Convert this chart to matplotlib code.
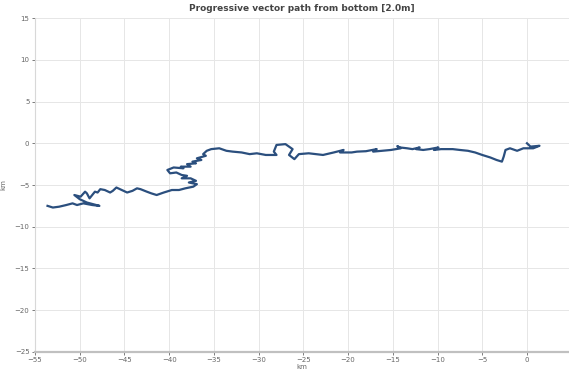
import matplotlib
matplotlib.use("Agg")
from matplotlib import pyplot as plt
import numpy as np

# progressive vector path, km east / km north
# eastern part: from the origin west to about -35 km
east_a = [0.0, 0.4, 1.4, 0.7, -0.4, -1.1, -1.9, -2.4, -2.6, -2.8, -3.4, -4.1, -5.0,
          -5.8, -6.6, -7.5, -8.3, -9.0, -9.6, -10.4, -9.9, -10.9, -11.6, -12.4,
          -12.0, -12.8, -13.4, -14.2, -14.5, -14.1, -15.2, -16.2, -17.2, -16.8,
          -18.0, -19.0, -19.6, -20.9, -20.5, -21.6, -22.8, -23.6, -24.4, -25.5,
          -26.0, -26.6, -26.2, -27.0, -28.0, -28.3, -28.0, -29.2, -30.2, -31.0,
          -31.9, -32.9, -33.6, -34.4, -35.3]
north_a = [0.0, -0.4, -0.3, -0.6, -0.6, -0.9, -0.6, -0.8, -1.6, -2.2, -2.0, -1.7, -1.4,
           -1.1, -0.9, -0.8, -0.7, -0.7, -0.7, -0.8, -0.5, -0.7, -0.8, -0.7,
           -0.5, -0.7, -0.6, -0.5, -0.35, -0.6, -0.8, -0.9, -1.0, -0.7,
           -0.95, -1.0, -1.1, -1.1, -0.8, -1.1, -1.4, -1.3, -1.2, -1.3,
           -1.9, -1.4, -0.7, -0.1, -0.2, -1.0, -1.4, -1.4, -1.2, -1.3,
           -1.1, -1.0, -0.9, -0.6, -0.7]
# western part: the zigzag drop near -37 km and the tail to -53 km
east_b = [-35.8, -36.2, -35.9, -36.9, -36.4, -37.4, -37.0, -38.0, -37.6, -38.7,
          -38.4, -39.5, -40.2, -39.9, -39.2, -38.6, -38.0, -38.6, -37.6, -37.0,
          -37.8, -36.9, -37.3, -38.2, -38.9, -39.7, -40.6, -41.4, -42.0, -42.5,
          -43.2, -43.6, -44.1, -44.7, -45.3, -45.9, -46.3, -46.6, -47.2, -47.7,
          -48.0, -48.3, -48.9, -49.2, -49.4, -49.9, -50.6, -50.0, -49.2, -47.8,
          -48.6, -49.6, -50.3, -50.8, -51.5, -52.3, -53.0, -53.6]
north_b = [-0.9, -1.3, -1.5, -1.8, -2.0, -2.2, -2.4, -2.5, -2.8, -2.8,
           -3.0, -2.9, -3.2, -3.6, -3.5, -3.8, -3.9, -4.2, -4.2, -4.5,
           -4.7, -4.9, -5.2, -5.4, -5.6, -5.6, -5.9, -6.2, -6.0, -5.8,
           -5.5, -5.4, -5.7, -5.9, -5.6, -5.3, -5.7, -5.9, -5.6, -5.5,
           -5.9, -5.8, -6.6, -6.0, -5.8, -6.4, -6.2, -6.7, -7.1, -7.5,
           -7.4, -7.2, -7.4, -7.2, -7.4, -7.6, -7.7, -7.5]

east_km = east_a + east_b
north_km = north_a + north_b
assert len(east_km) == len(north_km)

x_ticks = [-55, -50, -45, -40, -35, -30, -25, -20, -15, -10, -5, 0]
y_ticks = [15, 10, 5, 0, -5, -10, -15, -20, -25]

fig = plt.figure(figsize=(5.69, 3.70), dpi=100)
ax = fig.add_axes([0.0615, 0.049, 0.9385, 0.902])

ax.plot(east_km, north_km, color='#2b4f7e', lw=1.6, solid_joinstyle='round')

ax.set_xlim(-55, 4.7)
ax.set_ylim(-25, 15)
ax.set_xticks(x_ticks)
ax.set_yticks(y_ticks)
ax.grid(True, color='#e6e6e6', lw=0.7)
ax.set_axisbelow(True)

for s in ['top', 'right']:
    ax.spines[s].set_visible(False)
ax.spines['left'].set_color('#d8d8d8')
ax.spines['left'].set_linewidth(0.8)
ax.spines['bottom'].set_color('#c0c0c0')
ax.spines['bottom'].set_linewidth(1.6)
ax.tick_params(labelsize=5, colors='#666666', length=2, width=0.6, pad=2)

ax.set_title('Progressive vector path from bottom [2.0m]', fontsize=6.5,
             fontweight='bold', color='#444444', pad=5)
ax.set_xlabel('km', fontsize=5, color='#666666', labelpad=0.5)
ax.set_ylabel('km', fontsize=5, color='#666666', labelpad=6)

fig.savefig('out.png', dpi=100)
